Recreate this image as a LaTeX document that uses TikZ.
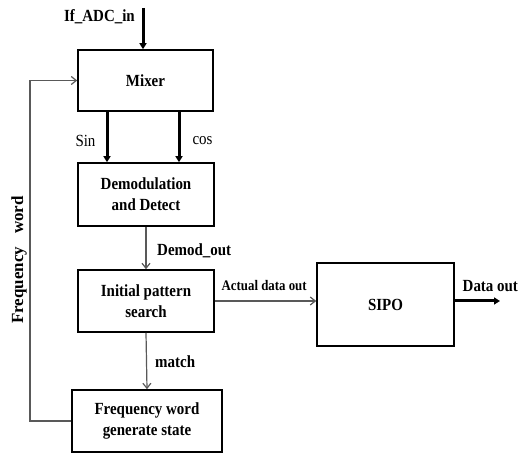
\documentclass[tikz,border=0pt]{standalone}
\usepackage{fontspec}
\setmainfont[FakeStretch=0.88]{Liberation Serif}
\newfontfamily\plainserif{Liberation Serif}
\usetikzlibrary{arrows.meta}

\begin{document}
\begin{tikzpicture}[x=1pt,y=1pt,
  every node/.style={font=\fontsize{17}{21}\selectfont\bfseries},
  blk/.style={draw,line width=1.6pt,align=center,inner sep=0pt},
  lbl/.style={inner sep=0pt},
  sig/.style={black!65,line width=1.2pt,-{Straight Barb[length=5pt,width=8pt]}},
  bus/.style={line width=3pt,-{Triangle[length=6pt,width=7pt]}}]
  \useasboundingbox (0,0) rectangle (519,454);
  % blocks
  \node[blk,minimum width=135,minimum height=61] (mixer) at (145.5,373.5) {Mixer};
  \node[blk,minimum width=136,minimum height=63] (demod) at (146,259.5) {Demodulation\\and Detect};
  \node[blk,minimum width=136,minimum height=62] (search) at (146,153) {Initial pattern\\search};
  \node[blk,minimum width=150,minimum height=62] (fwgen) at (147,33) {Frequency word\\generate state};
  \node[blk,minimum width=137,minimum height=83] (sipo) at (385.5,149.5) {SIPO};
  % input
  \coordinate (adc) at (143,446);
  \draw[bus] (adc) -- (adc |- mixer.north);
  \node[lbl,anchor=east] (adclbl) at (135,437) {If\_ADC\_in};
  % sin / cos
  \coordinate (sinx) at (107,0);
  \coordinate (cosx) at (179,0);
  \draw[bus] (mixer.south -| sinx) -- (demod.north -| sinx);
  \draw[bus] (mixer.south -| cosx) -- (demod.north -| cosx);
  \node[lbl,font=\fontsize{17}{19}\selectfont] (sinlbl) at (85.5,313) {Sin};
  \node[lbl,font=\fontsize{17}{19}\selectfont] (coslbl) at (202.5,313) {cos};
  % chain
  \draw[sig] (demod.south) -- (search.north);
  \node[lbl,anchor=west] (demodlbl) at (157,203) {Demod\_out};
  \draw[sig] (search.south) -- (fwgen.north);
  \node[lbl,anchor=west] (matchlbl) at (155,92) {match};
  \draw[sig] (search.east) -- (search.east -| sipo.west);
  \node[lbl,anchor=west,font=\fontsize{14.6}{16}\selectfont\bfseries] (actlbl) at (221.5,168) {Actual data out};
  % output
  \coordinate (dout) at (500,0);
  \draw[bus] (search.east -| sipo.east) -- (search.east -| dout);
  \node[lbl,anchor=west] (doutlbl) at (462.5,168) {Data out};
  % feedback
  \coordinate (fb) at (30,0);
  \draw[sig] (fwgen.west) -| (fb |- mixer.west) -- (mixer.west);
  \node[lbl,rotate=90,font=\fontsize{17}{19}\plainserif\bfseries] (fblbl) at (19,194) {Frequency\hspace{13pt}word};
\end{tikzpicture}
\end{document}
